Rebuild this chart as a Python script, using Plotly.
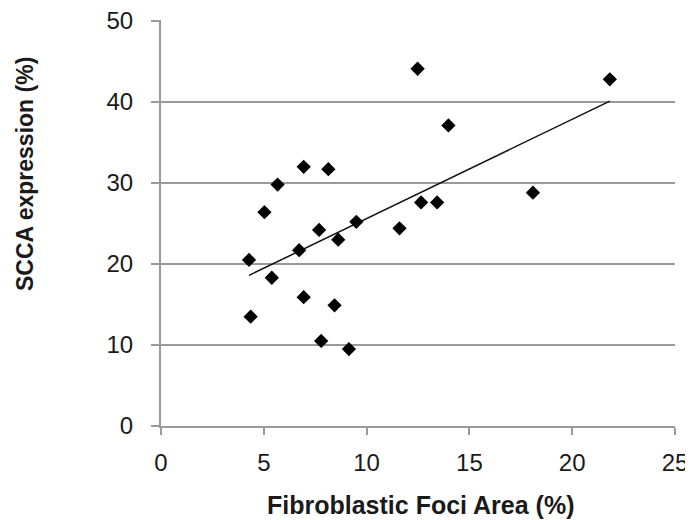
import numpy as np
import plotly.graph_objects as go

# Data
foci_area = [4.28, 4.36, 5.03, 5.39, 5.67, 6.94, 6.72, 6.94, 7.69, 7.79, 8.14,
             8.62, 8.44, 9.14, 9.50, 11.60, 12.48, 12.65, 13.43, 13.98, 18.09, 21.83]
scca_expr = [20.5, 13.5, 26.4, 18.3, 29.8, 32.0, 21.7, 15.9, 24.2, 10.5, 31.7,
             23.0, 14.9, 9.5, 25.2, 24.4, 44.1, 27.6, 27.6, 37.1, 28.8, 42.8]
x_ticks = [0, 5, 10, 15, 20, 25]
y_ticks = [0, 10, 20, 30, 40, 50]

# Linear trendline (least squares), spanning the data range
slope, intercept = np.polyfit(foci_area, scca_expr, 1)
trend_x = [min(foci_area), max(foci_area)]
trend_y = [slope * v + intercept for v in trend_x]

fig = go.Figure()
fig.add_trace(go.Scatter(
    x=trend_x, y=trend_y, mode="lines",
    line=dict(color="#111111", width=1.5),
    showlegend=False, hoverinfo="skip"))
fig.add_trace(go.Scatter(
    x=foci_area, y=scca_expr, mode="markers",
    marker=dict(symbol="diamond", size=11, color="black"),
    showlegend=False, cliponaxis=False))

grid_col = "#9a9a9a"
tick_font = dict(family="Liberation Sans Narrow, Liberation Sans, Arial, sans-serif",
                 size=24, color="#1a1a1a")

# The page body adds an 8px offset; the figure is sized so it ends at the window edge.
W, H = 685, 512
L, T = 153, 12
PW, PH = 514, 406

fig.update_layout(
    width=W, height=H,
    margin=dict(l=L, r=W - L - PW, t=T, b=H - T - PH),
    paper_bgcolor="white", plot_bgcolor="white",
    xaxis=dict(
        range=[0, 25], tickvals=x_ticks, showgrid=False, zeroline=False,
        showline=True, linecolor=grid_col, linewidth=2, automargin=False,
        ticks="outside", ticklen=7, tickwidth=2, tickcolor=grid_col,
        tickfont=tick_font, ticklabelstandoff=7, ticklabeloverflow="allow"),
    yaxis=dict(
        range=[0, 50.12], tickvals=y_ticks, showgrid=True, gridcolor=grid_col,
        gridwidth=2, zeroline=False, automargin=False,
        showline=True, linecolor=grid_col, linewidth=2,
        ticks="outside", ticklen=8, tickwidth=2, tickcolor=grid_col,
        tickfont=tick_font, ticklabelstandoff=13, ticklabeloverflow="allow"),
    annotations=[
        dict(text="SCCA expression (%)", xref="paper", yref="paper",
             x=(25 - 161) / PW, y=(426 - 174) / PH, textangle=-90,
             xanchor="center", yanchor="middle", showarrow=False,
             font=dict(family="Liberation Sans, Arial, sans-serif", size=23,
                       color="#1a1a1a", weight="bold")),
        dict(text="Fibroblastic Foci Area (%)", xref="paper", yref="paper",
             x=(420 - 161) / PW, y=(426 - 505) / PH, xanchor="center", yanchor="middle",
             showarrow=False,
             font=dict(family="Liberation Sans, Arial, sans-serif", size=25,
                       color="#1a1a1a", weight="bold")),
    ],
)

fig.write_html("out.html")
